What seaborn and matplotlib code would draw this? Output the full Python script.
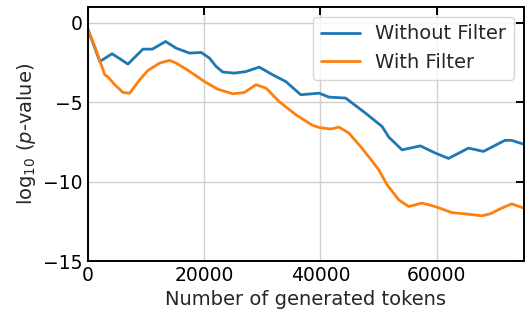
import numpy as np
import pandas as pd
import matplotlib
matplotlib.use("Agg")
import matplotlib.pyplot as plt
import seaborn as sns

x_without = [0, 2060, 4170, 6900, 9480, 11080, 13370, 15200, 17480, 19490, 20910, 22060, 23200,
             25190, 27200, 29480, 31760, 34050, 36620, 38610, 39760, 41470, 44340, 47760,
             50610, 51760, 54040, 57190, 59760, 62040, 65470, 68040, 71760, 72850, 75000]
y_without = [-0.4, -2.44, -1.95, -2.6, -1.66, -1.66, -1.18, -1.6, -1.91, -1.87, -2.22, -2.75, -3.1,
             -3.17, -3.07, -2.79, -3.27, -3.7, -4.53, -4.47, -4.43, -4.68, -4.74, -5.69,
             -6.53, -7.2, -8.0, -7.75, -8.2, -8.54, -7.89, -8.1, -7.4, -7.4, -7.65]

x_with = [0, 1200, 2900, 3480, 4630, 6050, 7200, 8910, 10340, 12340, 14050, 15200, 16910,
          18630, 20050, 22330, 24900, 26910, 28910, 30630, 32910, 35770, 38610, 39760,
          41770, 43200, 44910, 46910, 48500, 50040, 51470, 53480, 55190, 57470, 59760,
          62610, 64900, 67750, 69190, 71180, 72900, 75000]
y_with = [-0.4, -1.49, -3.27, -3.42, -3.9, -4.39, -4.43, -3.59, -3.0, -2.54, -2.37, -2.54,
          -2.92, -3.34, -3.7, -4.18, -4.47, -4.39, -3.9, -4.11, -4.96, -5.79, -6.45, -6.59,
          -6.69, -6.57, -6.95, -7.79, -8.52, -9.26, -10.2, -11.15, -11.57, -11.35, -11.57,
          -11.95, -12.03, -12.15, -12.03, -11.67, -11.4, -11.67]

series = ["Without Filter", "With Filter"]

df = pd.concat([
    pd.DataFrame({"x": x_without, "y": y_without, "series": series[0]}),
    pd.DataFrame({"x": x_with, "y": y_with, "series": series[1]}),
])

sns.set_style("white")
plt.rcParams["font.family"] = ["DejaVu Sans"]

fig = plt.figure(figsize=(5.26, 3.13), dpi=100)
ax = fig.add_axes([0.167, 0.166, 0.829, 0.812])

sns.lineplot(data=df, x="x", y="y", hue="series", hue_order=series,
             palette=["#1f77b4", "#ff7f0e"], linewidth=2, ax=ax, estimator=None, sort=True)

ax.set_xlim(0, 75000)
ax.set_ylim(-15, 1)
ax.set_xticks([0, 20000, 40000, 60000])
ax.set_yticks([0, -5, -10, -15])
ax.grid(True, color="#d0d0d0", linewidth=1)
ax.set_axisbelow(True)
for s in ax.spines.values():
    s.set_color("black")
    s.set_linewidth(1.4)
ax.tick_params(direction="in", length=6, width=1.4, top=True, right=True,
               labelsize=13.5, colors="black")
ax.set_xlabel("Number of generated tokens", fontsize=14)
ax.set_ylabel("log$_{10}$ ($p$-value)", fontsize=14)
leg = ax.legend(loc="upper right", fontsize=14, frameon=True, title=None)
leg.get_frame().set_edgecolor("#cccccc")

fig.savefig("out.png", dpi=100)
